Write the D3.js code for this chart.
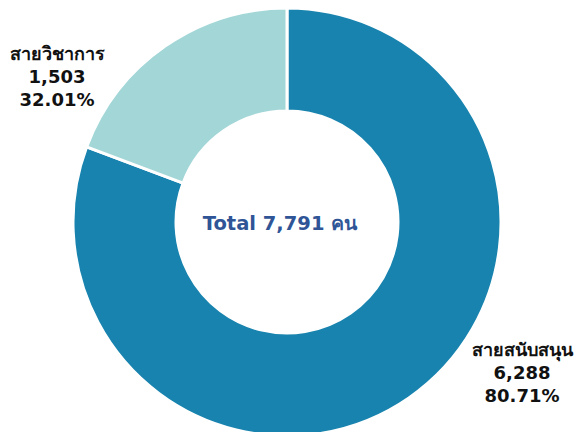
<!DOCTYPE html>
<html>
<head>
<meta charset="utf-8">
<script src="https://cdn.jsdelivr.net/npm/d3@7"></script>
<style>
  body { margin: 0; background: #fff; }
  svg text { font-family: "DejaVu Sans", Verdana, "Noto Sans", sans-serif; font-weight: bold; }
</style>
</head>
<body>
<div id="chart"></div>
<script>
// data
var categories = ["สายสนับสนุน", "สายวิชาการ"];
var values = [6288, 1503];
var valueLabels = ["6,288", "1,503"];
var pctLabels = ["80.71%", "32.01%"];
var colors = ["#1783AE", "#A3D6D7"];
var totalLabel = "Total 7,791 คน";

var width = 581, height = 432;
var cx = 287, cy = 222;
var outerR = 214, innerR = 111;

var svg = d3.select("#chart").append("svg")
    .attr("width", width)
    .attr("height", height);

var g = svg.append("g")
    .attr("transform", "translate(" + cx + "," + cy + ")");

var pie = d3.pie().sort(null).value(function(d) { return d; });
var arc = d3.arc().innerRadius(innerR).outerRadius(outerR);

g.selectAll("path")
    .data(pie(values))
    .enter().append("path")
    .attr("d", arc)
    .attr("fill", function(d, i) { return colors[i]; })
    .attr("stroke", "#fff")
    .attr("stroke-width", 3);

// centre label
g.append("text")
    .attr("x", -7)
    .attr("y", 8)
    .attr("text-anchor", "middle")
    .style("font-size", "19.5px")
    .attr("fill", "#2F5597")
    .text(totalLabel);

// outside labels
var labelPos = [[522, 356], [57, 60]];
labelPos.forEach(function(p, i) {
    var t = svg.append("text")
        .attr("text-anchor", "middle")
        .attr("fill", "#111")
        .style("font-size", "18px");
    t.append("tspan").attr("x", p[0]).attr("y", p[1]).text(categories[i]);
    t.append("tspan").attr("x", p[0]).attr("y", p[1] + 23).text(valueLabels[i]);
    t.append("tspan").attr("x", p[0]).attr("y", p[1] + 46).text(pctLabels[i]);
});
</script>
</body>
</html>
